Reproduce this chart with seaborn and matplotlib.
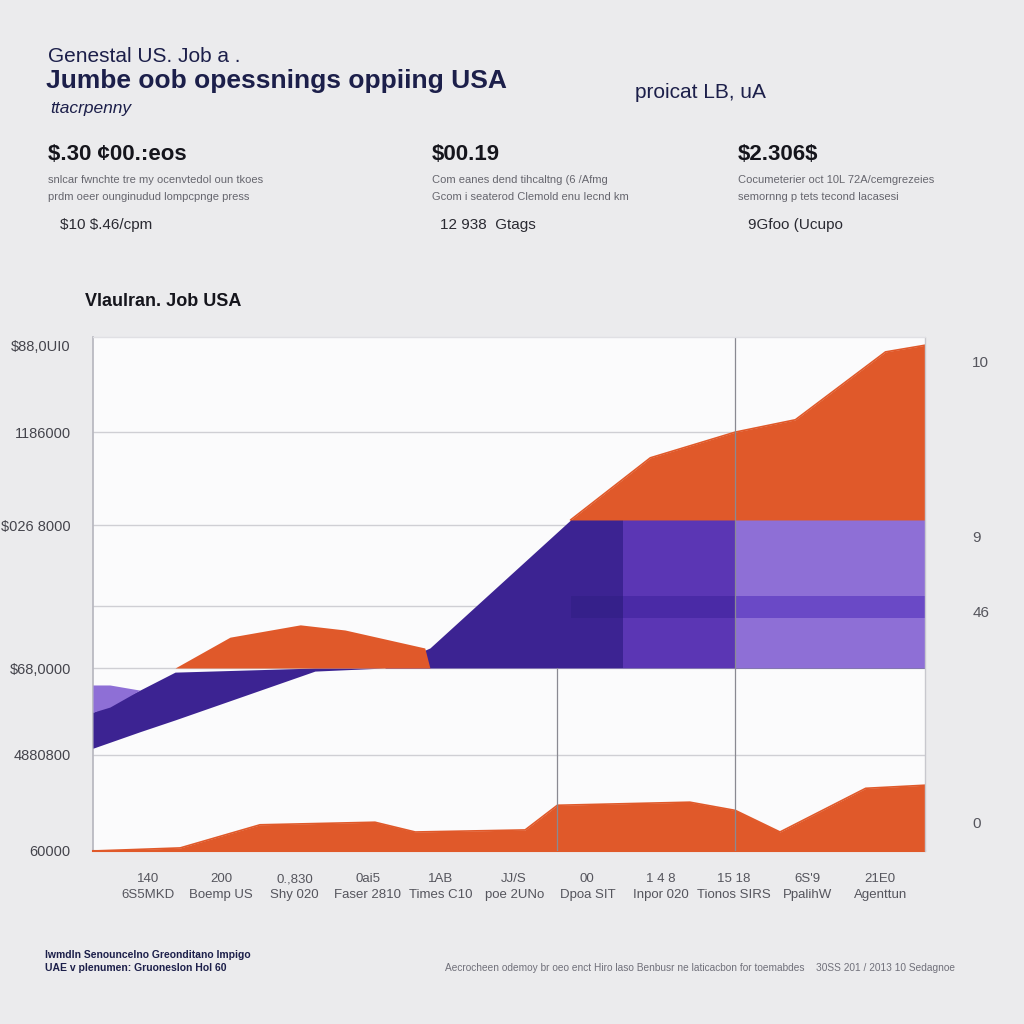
import matplotlib
matplotlib.use("Agg")
import matplotlib.pyplot as plt
import seaborn as sns
import numpy as np
import pandas as pd

# ---------------- data ----------------
x_ticks = list(range(11))
x_tick_labels = ["140\n6S5MKD", "200\nBoemp US", "0.,830\nShy 020", "0ai5\nFaser 2810",
                 "1AB\nTimes C10", "JJ/S\npoe 2UNo", "00\nDpoa SIT", "1 4 8\nInpor 020",
                 "15 18\nTionos SIRS", "6S'9\nPpalihW", "21E0\nAgenttun"]
y_tick_vals = [0, 18.7, 35.6, 63.4, 81.5, 98.4]
y_tick_labels = ["60000", "4880800", "$68,0000", "$026 8000", "1186000", "$88,0UI0"]
y_grid_vals = [18.7, 35.6, 47.7, 63.4, 81.5]
right_tick_vals = [5.6, 46.5, 61.2, 95.2]
right_tick_labels = ["0", "46", "9", "10"]

# bottom orange series
low_x = [-0.75, 0.44, 1.53, 3.10, 3.65, 5.15, 5.59, 7.40, 8.02, 8.63, 9.80, 10.61]
low_y = [0.0, 0.6, 5.1, 5.6, 3.7, 4.1, 8.9, 9.5, 7.9, 3.7, 12.2, 12.8]

# middle orange hump (over baseline 35.6)
hump_x = [0.37, 1.12, 2.08, 2.69, 3.78, 3.85]
hump_y = [35.6, 41.6, 44.0, 43.0, 39.5, 35.6]
hump_base = 35.6

# upper orange series (over baseline 64.4)
top_x = [5.77, 6.86, 8.02, 8.84, 10.07, 10.61]
top_y = [64.4, 76.5, 81.5, 83.9, 97.1, 98.4]
top_base = 64.4

# purple band
band_x = [-0.75, -0.11, 0.37, 2.28, 3.23, 3.85, 5.77, 10.61]
band_hi = [27.0, 31.3, 34.8, 35.6, 35.6, 39.5, 64.4, 64.4]
band_lo = [20.0, 23.2, 25.5, 35.0, 35.6, 35.6, 35.6, 35.6]

# light purple strip at far left
light_x = [-0.75, -0.52, -0.11]
light_hi = [32.3, 32.3, 31.3]
light_lo = [27.0, 28.0, 31.3]

# shaded block sections (x-start, x-end) with shade levels
block_edges = [5.77, 6.48, 8.02, 10.61]
block_colors = ["#3c2392", "#5b36b4", "#8e6fd6"]
stripe_lo, stripe_hi = 45.3, 49.6
stripe_colors = ["#35208a", "#4a2aa6", "#6a49c6"]

vlines = [(5.59, 0, 35.6), (8.02, 0, 100)]

ORANGE = "#e0592a"
BG = "#ebebed"
NAVY = "#1c1f4a"

# ---------------- figure ----------------
sns.set_theme(style="white")
plt.rcParams["font.family"] = ["Liberation Sans", "DejaVu Sans"]

fig = plt.figure(figsize=(10.24, 10.24), dpi=100, facecolor=BG)
ax = fig.add_axes([93/1024, (1024-851)/1024, 832/1024, 514/1024])
ax.set_facecolor("#fbfbfc")
ax.set_xlim(-0.75, 10.61)
ax.set_ylim(0, 100)

for g in y_grid_vals:
    ax.axhline(g, color="#cfcfd4", lw=1.0, zorder=1)
for xv, y0, y1 in vlines:
    ax.plot([xv, xv], [y0, y1], color="#8a8a92", lw=0.9, zorder=6)

# purple band
ax.fill_between(band_x, band_lo, band_hi, color="#3c2392", lw=0, zorder=3)
ax.fill_between(light_x, light_lo, light_hi, color="#8e6fd6", lw=0, zorder=3)
for i, c in enumerate(block_colors):
    xs = [block_edges[i], block_edges[i+1]]
    ax.fill_between(xs, [top_base - 28.8]*2, [top_base]*2, color=c, lw=0, zorder=4)
    ax.fill_between(xs, [stripe_lo]*2, [stripe_hi]*2, color=stripe_colors[i], lw=0, zorder=4)

# orange areas
ax.fill_between(low_x, 0, low_y, color=ORANGE, lw=0, zorder=4)
ax.fill_between(hump_x, hump_base, hump_y, color=ORANGE, lw=0, zorder=4)
ax.fill_between(top_x, top_base, top_y, color=ORANGE, lw=0, zorder=4)
df_low = pd.DataFrame({"x": low_x, "y": low_y})
sns.lineplot(data=df_low, x="x", y="y", ax=ax, color=ORANGE, lw=1.2, zorder=5)
df_top = pd.DataFrame({"x": top_x, "y": top_y})
sns.lineplot(data=df_top, x="x", y="y", ax=ax, color=ORANGE, lw=1.2, zorder=5)

ax.set_xlabel("")
ax.set_ylabel("")
ax.set_xticks(x_ticks)
ax.set_xticklabels(x_tick_labels, fontsize=9.5, color="#55555d", linespacing=1.4)
ax.set_yticks(y_tick_vals)
ax.set_yticklabels([s.replace("$", r"\$") for s in y_tick_labels], fontsize=10.5, color="#44444c")
ax.tick_params(axis="x", length=0, pad=16)
ax.tick_params(axis="y", length=0, pad=16)
for s in ["top", "right"]:
    ax.spines[s].set_visible(False)
ax.spines["left"].set_color("#b8b8c0")
ax.spines["bottom"].set_color(ORANGE)
ax.spines["bottom"].set_linewidth(1.5)
ax.plot([10.61, 10.61], [0, 100], color="#c8c8ce", lw=1.0, clip_on=False, zorder=6)
ax.plot([-0.75, 10.61], [100, 100], color="#e0e0e4", lw=1.0, clip_on=False, zorder=6)

ax2 = ax.twinx()
ax2.set_ylim(0, 100)
ax2.set_yticks(right_tick_vals)
ax2.set_yticklabels(right_tick_labels, fontsize=11, color="#55555d")
ax2.tick_params(axis="y", length=0, pad=34)
for s in ax2.spines.values():
    s.set_visible(False)
ax2.grid(False)

# ---------------- texts ----------------
def T(x, y, s, **kw):
    fig.text(x/1024, 1 - y/1024, s, parse_math=False, **kw)

T(48, 56, "Genestal US. Job a .", fontsize=15, color=NAVY, va="center")
T(46, 81, "Jumbe oob opessnings oppiing USA", fontsize=19, color=NAVY, weight="bold", va="center")
T(50, 108, "ttacrpenny", fontsize=12.5, color=NAVY, va="center", style="italic")
T(635, 92, "proicat LB, uA", fontsize=15, color=NAVY, va="center")

kpis = [
    (48, "$.30 ¢00.:eos", "snlcar fwnchte tre my ocenvtedol oun tkoes",
     "prdm oeer ounginudud lompcpnge press", 60, "$10 $.46/cpm"),
    (432, "$00.19", "Com eanes dend tihcaltng (6 /Afmg",
     "Gcom i seaterod Clemold enu Iecnd km", 440, "12 938  Gtags"),
    (738, "$2.306$", "Cocumeterier oct 10L 72A/cemgrezeies",
     "semornng p tets tecond lacasesi", 748, "9Gfoo (Ucupo"),
]
for x, big, l1, l2, x2, small in kpis:
    T(x, 155, big, fontsize=16, color="#15151c", va="center", weight="bold")
    T(x, 180, l1, fontsize=8, color="#66666e", va="center")
    T(x, 197, l2, fontsize=8, color="#66666e", va="center")
    T(x2, 225, small, fontsize=11, color="#2a2a32", va="center")

T(85, 301, "Vlaulran. Job USA", fontsize=13, color="#15151c", weight="bold", va="center")

T(45, 955, "Iwmdln Senouncelno Greonditano Impigo", fontsize=7.5, color=NAVY, weight="bold", va="center")
T(45, 968, "UAE v plenumen: Gruoneslon Hol 60", fontsize=7.5, color=NAVY, weight="bold", va="center")
T(445, 968, "Aecrocheen odemoy br oeo enct Hiro laso Benbusr ne laticacbon for toemabdes    30SS 201 / 2013 10 Sedagnoe",
  fontsize=7.3, color="#70707a", va="center")

fig.savefig("out.png", dpi=100, facecolor=BG)
